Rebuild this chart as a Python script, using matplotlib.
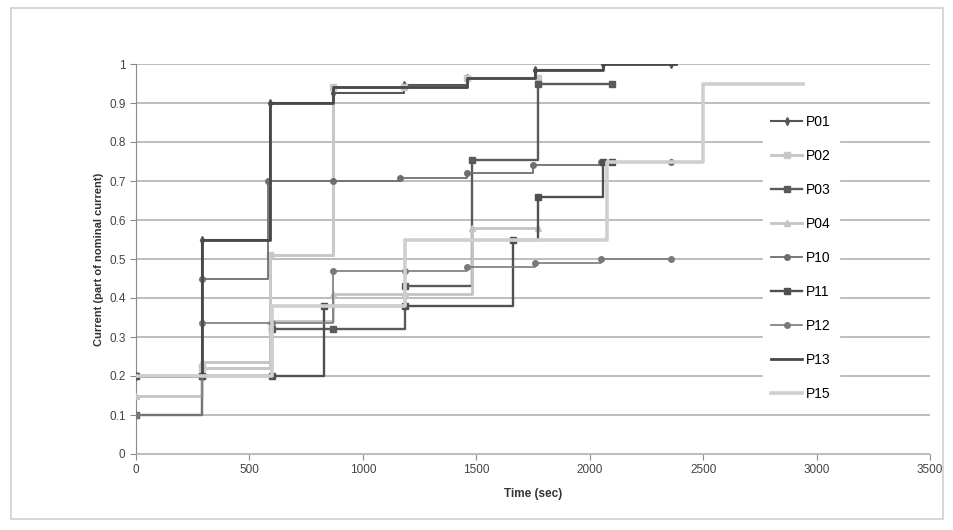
import matplotlib
matplotlib.use('Agg')
import matplotlib.pyplot as plt
from matplotlib.patches import Rectangle

plt.rcParams['font.family'] = ['Liberation Sans', 'DejaVu Sans']

# series data (time in sec, current as part of nominal current)
names = ['P01', 'P02', 'P03', 'P04', 'P10', 'P11', 'P12', 'P13', 'P15']

p01_t = [0, 290, 590, 870, 1180, 1460, 1760, 2060, 2360]
p01_i = [0.2, 0.55, 0.9, 0.925, 0.945, 0.965, 0.985, 1.0, 1.0]

p02_t = [0, 290, 590, 870, 1180, 1460, 1770]
p02_i = [0.2, 0.22, 0.51, 0.94, 0.94, 0.965, 0.965]

p03_t = [0, 290, 600, 870, 1185, 1480, 1770, 2100]
p03_i = [0.1, 0.2, 0.32, 0.32, 0.43, 0.755, 0.95, 0.95]

p04_t = [0, 290, 590, 870, 1185, 1480, 1770]
p04_i = [0.15, 0.235, 0.34, 0.41, 0.41, 0.58, 0.58]

p10_t = [0, 290, 580, 870, 1165, 1460, 1750, 2050, 2360]
p10_i = [0.2, 0.45, 0.7, 0.7, 0.707, 0.72, 0.74, 0.75, 0.75]

p11_t = [0, 290, 600, 830, 1185, 1660, 1770, 2060, 2100]
p11_i = [0.2, 0.2, 0.2, 0.38, 0.38, 0.55, 0.66, 0.75, 0.75]

p12_t = [0, 290, 600, 870, 1185, 1460, 1760, 2050, 2360]
p12_i = [0.1, 0.335, 0.335, 0.47, 0.47, 0.48, 0.49, 0.5, 0.5]

p13_t = [0, 290, 590, 870, 1180, 1460, 1760, 2060, 2380]
p13_i = [0.2, 0.55, 0.9, 0.94, 0.94, 0.965, 0.985, 1.0, 1.0]

p15_t = [0, 290, 600, 870, 1185, 1480, 1770, 2075, 2500, 2940]
p15_i = [0.2, 0.2, 0.38, 0.38, 0.55, 0.55, 0.55, 0.75, 0.95, 0.95]

times = [p01_t, p02_t, p03_t, p04_t, p10_t, p11_t, p12_t, p13_t, p15_t]
currents = [p01_i, p02_i, p03_i, p04_i, p10_i, p11_i, p12_i, p13_i, p15_i]

colors = ['#555555', '#c8c8c8', '#5a5a5a', '#c4c4c4', '#6e6e6e',
          '#505050', '#7a7a7a', '#484848', '#cfcfcf']
markers = ['d', 's', 's', '^', 'o', 's', 'o', '', '']
widths = [1.5, 2.2, 1.7, 2.0, 1.3, 1.7, 1.2, 2.0, 2.6]

fig = plt.figure(figsize=(9.54, 5.30), dpi=100)
# outer chart frame
fig.patches.append(Rectangle((0.012, 0.02), 0.976, 0.965, transform=fig.transFigure,
                             fill=False, edgecolor='#d0d0d0', lw=1.2))
ax = fig.add_axes([136 / 954, 1 - 454 / 530, (930 - 136) / 954, (454 - 64) / 530])

for t, c, name, col, m, w in zip(times, currents, names, colors, markers, widths):
    ax.step(t, c, where='post', color=col, lw=w, marker=m, markersize=4,
            label=name, zorder=3)

ax.set_xlim(0, 3500)
ax.set_ylim(0, 1)
ax.set_xticks(range(0, 3501, 500))
ax.set_yticks([i / 10 for i in range(11)])
ax.set_yticklabels(['0', '0.1', '0.2', '0.3', '0.4', '0.5', '0.6', '0.7', '0.8', '0.9', '1'])
ax.yaxis.grid(True, color='#bdbdbd', lw=1.4)
ax.set_axisbelow(True)
for s in ['top', 'right']:
    ax.spines[s].set_visible(False)
ax.spines['left'].set_color('#8a8a8a')
ax.spines['bottom'].set_color('#bdbdbd')
ax.tick_params(colors='#8a8a8a', labelcolor='#444444', labelsize=8.5, length=4)
ax.set_xlabel('Time (sec)', fontsize=8.5, fontweight='bold', color='#333333', labelpad=8)
ax.set_ylabel('Current (part of nominal current)', fontsize=8, fontweight='bold',
              color='#333333', labelpad=4)

leg = ax.legend(loc='upper left', bbox_to_anchor=(756 / 954, 1 - 100 / 530),
                bbox_transform=fig.transFigure, frameon=True, fontsize=10,
                labelspacing=1.44, handlelength=2.2, handletextpad=0.3, borderpad=0.6)
leg.get_frame().set_facecolor('white')
leg.get_frame().set_edgecolor('white')
leg.get_frame().set_alpha(1)

fig.savefig('out.png', dpi=100)
